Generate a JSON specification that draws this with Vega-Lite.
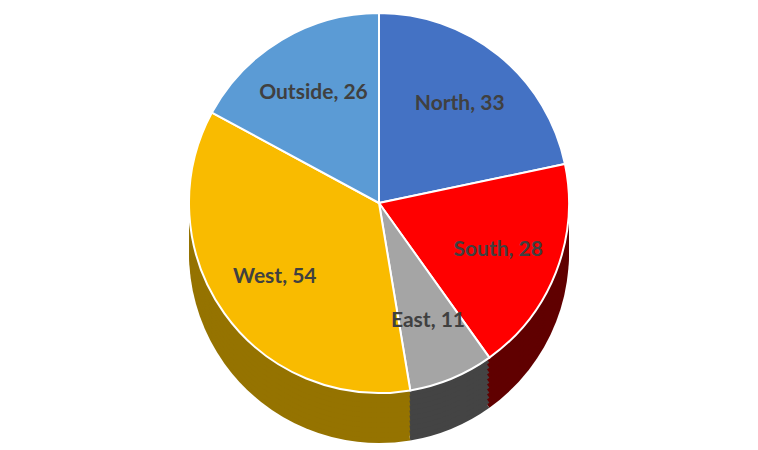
{
  "$schema": "https://vega.github.io/schema/vega-lite/v6.json",
  "width": 758,
  "height": 450,
  "autosize": {"type": "fit", "contains": "padding"},
  "padding": 0,
  "background": "white",
  "view": {"stroke": null},
  "data": {"values": [
    {"region": "North", "value": 33, "idx": 1, "label": "North, 33"},
    {"region": "South", "value": 28, "idx": 2, "label": "South, 28"},
    {"region": "East", "value": 11, "idx": 3, "label": "East, 11"},
    {"region": "West", "value": 54, "idx": 4, "label": "West, 54"},
    {"region": "Outside", "value": 26, "idx": 5, "label": "Outside, 26"}
  ]},
  "encoding": {
    "theta": {"field": "value", "type": "quantitative", "stack": true},
    "order": {"field": "idx", "type": "quantitative"}
  },
  "layer": [
    {"mark": {"type": "arc", "outerRadius": 190, "yOffset": 28}, "encoding": {"color": {"field": "region", "type": "nominal", "legend": null, "scale": {"domain": ["North", "South", "East", "West", "Outside"], "range": ["#2F4F8A", "#600000", "#444444", "#957300", "#3E6E99"]}}}},
    {"mark": {"type": "arc", "outerRadius": 190, "yOffset": 23}, "encoding": {"color": {"field": "region", "type": "nominal", "legend": null, "scale": {"domain": ["North", "South", "East", "West", "Outside"], "range": ["#2F4F8A", "#600000", "#444444", "#957300", "#3E6E99"]}}}},
    {"mark": {"type": "arc", "outerRadius": 190, "yOffset": 18}, "encoding": {"color": {"field": "region", "type": "nominal", "legend": null, "scale": {"domain": ["North", "South", "East", "West", "Outside"], "range": ["#2F4F8A", "#600000", "#444444", "#957300", "#3E6E99"]}}}},
    {"mark": {"type": "arc", "outerRadius": 190, "yOffset": 13}, "encoding": {"color": {"field": "region", "type": "nominal", "legend": null, "scale": {"domain": ["North", "South", "East", "West", "Outside"], "range": ["#2F4F8A", "#600000", "#444444", "#957300", "#3E6E99"]}}}},
    {"mark": {"type": "arc", "outerRadius": 190, "yOffset": 8}, "encoding": {"color": {"field": "region", "type": "nominal", "legend": null, "scale": {"domain": ["North", "South", "East", "West", "Outside"], "range": ["#2F4F8A", "#600000", "#444444", "#957300", "#3E6E99"]}}}},
    {"mark": {"type": "arc", "outerRadius": 190, "yOffset": 3}, "encoding": {"color": {"field": "region", "type": "nominal", "legend": null, "scale": {"domain": ["North", "South", "East", "West", "Outside"], "range": ["#2F4F8A", "#600000", "#444444", "#957300", "#3E6E99"]}}}},
    {"mark": {"type": "arc", "outerRadius": 190, "yOffset": -2}, "encoding": {"color": {"field": "region", "type": "nominal", "legend": null, "scale": {"domain": ["North", "South", "East", "West", "Outside"], "range": ["#2F4F8A", "#600000", "#444444", "#957300", "#3E6E99"]}}}},
    {"mark": {"type": "arc", "outerRadius": 190, "yOffset": -7}, "encoding": {"color": {"field": "region", "type": "nominal", "legend": null, "scale": {"domain": ["North", "South", "East", "West", "Outside"], "range": ["#2F4F8A", "#600000", "#444444", "#957300", "#3E6E99"]}}}},
    {"mark": {"type": "arc", "outerRadius": 190, "yOffset": -12}, "encoding": {"color": {"field": "region", "type": "nominal", "legend": null, "scale": {"domain": ["North", "South", "East", "West", "Outside"], "range": ["#2F4F8A", "#600000", "#444444", "#957300", "#3E6E99"]}}}},
    {"mark": {"type": "arc", "outerRadius": 190, "yOffset": -17}, "encoding": {"color": {"field": "region", "type": "nominal", "legend": null, "scale": {"domain": ["North", "South", "East", "West", "Outside"], "range": ["#2F4F8A", "#600000", "#444444", "#957300", "#3E6E99"]}}}},
    {"mark": {"type": "arc", "outerRadius": 190, "yOffset": -22, "stroke": "white", "strokeWidth": 2}, "encoding": {"color": {"field": "region", "type": "nominal", "legend": null, "scale": {"domain": ["North", "South", "East", "West", "Outside"], "range": ["#4472C4", "#FF0000", "#A5A5A5", "#F9BB00", "#5B9BD5"]}}}},
    {"mark": {"type": "text", "radius": 128, "yOffset": -22, "font": "Lato", "fontSize": 21, "fontWeight": "bold", "color": "#404040"}, "encoding": {"text": {"field": "label"}}}
  ],
  "resolve": {"scale": {"color": "independent"}}
}
